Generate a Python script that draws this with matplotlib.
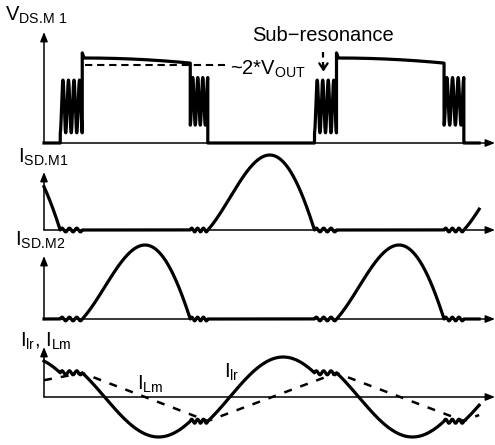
import numpy as np
import matplotlib
matplotlib.use("Agg")
import matplotlib.pyplot as plt

plt.rcParams["font.family"] = ["Liberation Sans", "DejaVu Sans"]
plt.rcParams["mathtext.default"] = "regular"

W, H = 495, 445
LEFT = 44      # pixel column of the vertical axes
PX = 4.49      # pixels per time unit

# dead-time windows (ringing); each one ends at a switching edge of V_DS.M1
dead_start = [3.6, 32.5, 60.1, 88.9]
dead_end = [8.5, 36.4, 65.0, 93.3]
dead_kind = ["rise", "fall", "rise", "fall"]
# conduction windows of the secondary diodes
cond_start = [-20.5, 8.5, 36.4, 65.0, 93.3]
cond_end = [3.6, 32.5, 60.1, 88.9, 117.4]
cond_dev = ["M1", "M2", "M1", "M2", "M1"]
t_stop = 96.7

# V_DS.M1 levels
v_plateau = [1.0, 0.94]
v_spike = 1.06
v_ring = {"rise": (0.12, 0.74), "fall": (0.21, 0.77)}
v_cycles = {"rise": 4.0, "fall": 3.5}
v_out2 = 0.92
v_out2_span = [9.1, 40.3]
subres_t = 62.1

# resonant current: phase at the start of each conduction window
lr_phase0 = -0.65
ripple_sd = 0.025
ripple_lr = 0.05
# magnetizing current corners
lm_t = [0.0, 8.5, 36.4, 65.0, 93.3, 96.7]
lm_v = [0.42, 0.6, -0.6, 0.6, -0.6, -0.45]


def windows():
    out = [(a, b, "cond", d) for a, b, d in zip(cond_start, cond_end, cond_dev)]
    out += [(a, b, "dead", k) for a, b, k in zip(dead_start, dead_end, dead_kind)]
    return sorted(out)


def grid(a, b, n=400):
    t = np.linspace(max(a, 0), min(b, t_stop), n)
    return t, (t - a) / (b - a)


def pulse(s):
    p = np.sin(lr_phase0 + np.pi * s) - np.sin(lr_phase0) * (1 - 2 * s)
    ss = np.linspace(0, 1, 1001)
    norm = np.max(np.sin(lr_phase0 + np.pi * ss) - np.sin(lr_phase0) * (1 - 2 * ss))
    return p / norm


def vds():
    ts, vs = [], []
    for a, b, kind, info in windows():
        if a >= t_stop:
            continue
        t, s = grid(a, b)
        if kind == "cond":
            if info == "M2":
                ts += [a]
                vs += [v_spike]
                t, s = grid(a + 0.4, b)
                v = v_plateau[0] - (v_plateau[0] - v_plateau[1]) * s ** 2
            else:
                v = np.zeros_like(t)
        else:
            lo, hi = v_ring[info]
            v = (lo + hi) / 2 - (hi - lo) / 2 * np.cos(2 * np.pi * v_cycles[info] * s)
            if info == "rise":
                ts += [a]
                vs += [0.0]
            else:
                t = np.append(t, b)
                v = np.append(v, 0.0)
        ts += list(t)
        vs += list(v)
    return ts, vs


def diode(dev):
    ts, vs = [], []
    for a, b, kind, info in windows():
        if a >= t_stop:
            continue
        t, s = grid(a, b)
        if kind == "cond":
            v = pulse(s) if info == dev else np.zeros_like(t)
        else:
            v = ripple_sd * np.sin(2 * np.pi * 3 * s)
        ts += list(t)
        vs += list(v)
    return ts, vs


def resonant():
    ts, vs = [], []
    for a, b, kind, info in windows():
        if a >= t_stop:
            continue
        t, s = grid(a, b)
        if kind == "cond":
            pol = 1 if info == "M1" else -1
            v = pol * np.sin(lr_phase0 + np.pi * s)
        else:
            pol = 1 if info == "rise" else -1
            v = pol * np.sin(-lr_phase0) + ripple_lr * np.sin(2 * np.pi * 3 * s)
        ts += list(t)
        vs += list(v)
    return ts, vs


fig = plt.figure(figsize=(W / 100, H / 100), dpi=100)


def panel(tip, base, unit):
    bottom = base + 48
    ax = fig.add_axes([LEFT / W, 1 - bottom / H, (W - LEFT) / W, (bottom - tip) / H])
    ax.set_xlim(0, (W - 1 - LEFT) / PX)
    ax.set_ylim(-(bottom - base) / unit, (base - tip) / unit)
    ax.axis("off")
    arrow = dict(arrowstyle="-|>,head_width=0.22,head_length=0.55", color="black",
                 lw=1.1, shrinkA=0, shrinkB=0)
    ax.annotate("", xy=(0, 1), xycoords=ax.get_xaxis_transform(),
                xytext=(0, 0), textcoords="data", arrowprops=arrow)
    ax.annotate("", xy=(1, 0), xycoords=ax.get_yaxis_transform(),
                xytext=(0, 0), textcoords="data", arrowprops=arrow)
    return ax


def label(x, y, s):
    fig.text(x / W, 1 - y / H, s, fontsize=14.5, va="baseline", ha="left")


LW = 2.3

ax1 = panel(32, 143, 85)
t, v = vds()
ax1.plot(t, v, color="black", lw=LW, clip_on=False)
ax1.plot(v_out2_span, [v_out2, v_out2], color="black", lw=1.5, dashes=(3.5, 2.3))
ax1.plot([subres_t, subres_t], [1.07, 0.9], color="black", lw=1.6, dashes=(2.5, 2))
ax1.annotate("", xy=(subres_t, 0.84), xytext=(subres_t, 0.92),
             arrowprops=dict(arrowstyle="->,head_width=0.3,head_length=0.45",
                             color="black", lw=1.6, shrinkA=0, shrinkB=0))

ax2 = panel(172, 230, 75)
t, v = diode("M1")
ax2.plot(t, v, color="black", lw=LW, clip_on=False)

ax3 = panel(256, 319, 74)
t, v = diode("M2")
ax3.plot(t, v, color="black", lw=LW, clip_on=False)

ax4 = panel(347, 397, 40)
t, v = resonant()
ax4.plot(t, v, color="black", lw=LW, clip_on=False)
ax4.plot(lm_t, lm_v, color="black", lw=1.8, dashes=(3.2, 3.6), clip_on=False)

label(5, 21, "V$_{DS.\\!M\\ 1}$")
label(252, 41, "Sub\u2212resonance")
label(230, 75, "~2*V$_{OUT}$")
label(18, 163, "I$_{SD.\\!M1}$")
label(15, 246, "I$_{SD.\\!M2}$")
label(20, 347, "I$_{lr}$, I$_{Lm}$")
label(137, 390, "I$_{Lm}$")
label(224, 378, "I$_{lr}$")

fig.savefig("out.png", dpi=100, facecolor="white")
